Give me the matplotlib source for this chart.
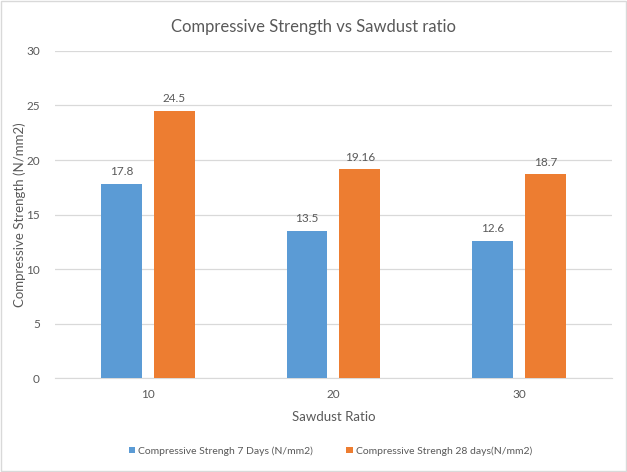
import matplotlib
matplotlib.use("Agg")
import matplotlib.pyplot as plt
import numpy as np

ratios = ["10", "20", "30"]
days7 = [17.8, 13.5, 12.6]
days28 = [24.5, 19.16, 18.7]
labels7 = ["17.8", "13.5", "12.6"]
labels28 = ["24.5", "19.16", "18.7"]

plt.rcParams['font.family'] = ['Lato', 'DejaVu Sans']
txt = "#595959"

fig = plt.figure(figsize=(6.27, 4.72), dpi=100)
ax = fig.add_axes([0.0877, 0.199, 0.888, 0.693])

x = np.arange(len(ratios))
w = 0.22
gap = 0.065
b1 = ax.bar(x - (w + gap) / 2, days7, w, color="#5B9BD5", label="Compressive Strengh 7 Days (N/mm2)", zorder=3)
b2 = ax.bar(x + (w + gap) / 2, days28, w, color="#ED7D31", label="Compressive Strengh 28 days(N/mm2)", zorder=3)

for bars, labs in [(b1, labels7), (b2, labels28)]:
	for r, l in zip(bars, labs):
		ax.text(r.get_x() + r.get_width() / 2, r.get_height() + 0.6, l, ha="center", va="bottom", fontsize=8.5, color=txt)

ax.set_xlim(-0.5, 2.5)
ax.set_ylim(0, 30)
ax.set_yticks(np.arange(0, 31, 5))
ax.set_xticks(x)
ax.set_xticklabels(ratios)
ax.yaxis.grid(True, color="#D9D9D9", linewidth=0.9, zorder=0)
ax.tick_params(axis="x", length=0, labelsize=8.5, colors=txt, pad=8)
ax.tick_params(axis="y", length=0, labelsize=8.5, colors=txt, pad=11)
for s in ["top", "right", "left"]:
	ax.spines[s].set_visible(False)
ax.spines["bottom"].set_color("#D9D9D9")

ax.set_xlabel("Sawdust Ratio", fontsize=9.5, color=txt, labelpad=8)
ax.set_ylabel("Compressive Strength (N/mm2)", fontsize=9.5, color=txt, labelpad=0)
fig.text(0.5, 0.943, "Compressive Strength vs Sawdust ratio", ha="center", va="center", fontsize=12, color=txt)

fig.legend(handles=[b1, b2], loc="center", bbox_to_anchor=(0.527, 0.045), ncol=2, frameon=False,
	fontsize=7.5, labelcolor=txt, handlelength=0.6, handleheight=0.6, handletextpad=0.3, columnspacing=3.2)

fig.patches.append(matplotlib.patches.Rectangle((0.002, 0.002), 0.996, 0.996, transform=fig.transFigure,
	fill=False, edgecolor="#D9D9D9", linewidth=1))

fig.savefig("out.png", dpi=100)
